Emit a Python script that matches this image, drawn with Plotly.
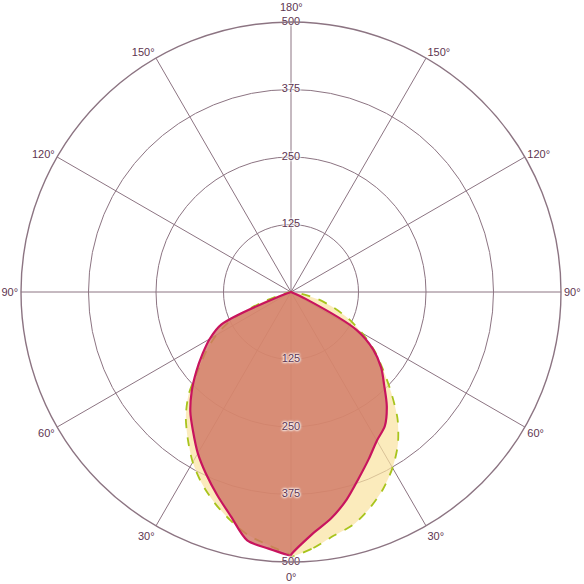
import plotly.graph_objects as go

# gamma angles (deg from nadir)
gamma = [0, 5, 10, 15, 20, 25, 30, 35, 40, 45, 50, 55, 60, 65, 70, 75, 80, 85, 90]

# Series A (yellow, dashed outline) – C0 side (right) and C180 side (left)
yellow_right = [490, 476, 458, 446, 426, 403, 376, 345, 307, 262, 222, 188, 152, 118, 83, 52, 20, 0, 0]
yellow_left = [488, 471, 457, 437, 415, 391, 364, 333, 303, 268, 224, 192, 160, 120, 60, 15, 0, 0, 0]

# Series B (salmon, solid outline)
red_right = [487, 450, 426, 398, 367, 341, 318, 303, 276, 244, 218, 186, 140, 30, 0, 0, 0, 0, 0]
red_left = [488, 477, 467, 430, 400, 372, 345, 316, 290, 260, 229, 200, 174, 142, 20, 0, 0, 0, 0]

radial_ticks = [125, 250, 375, 500]
ang_vals = [0, 30, 60, 90, 120, 150, 180, 210, 240, 270, 300, 330]
ang_text = ["", "30°", "60°", "90°", "120°", "150°", "",
            "150°", "120°", "90°", "60°", "30°"]
pole_labels = ["180°", "0°"]

TXT = "#5e3550"


def closed(right, left):
    th = list(gamma) + [360 - g for g in reversed(gamma)]
    r = list(right) + list(reversed(left))
    return th + [th[0]], r + [r[0]]


fig = go.Figure()

th, r = closed(yellow_right, yellow_left)
fig.add_trace(go.Scatterpolar(
    theta=th, r=r, mode="lines", fill="toself",
    fillcolor="rgba(250,226,160,0.7)",
    line=dict(color="#a8c41c", width=1.8, dash="dash", shape="spline", smoothing=0.8),
    hoverinfo="skip", showlegend=False))

th, r = closed(red_right, red_left)
fig.add_trace(go.Scatterpolar(
    theta=th, r=r, mode="lines", fill="toself",
    fillcolor="rgba(208,118,100,0.80)",
    line=dict(color="#c8145e", width=2.2, shape="spline", smoothing=0.8),
    hoverinfo="skip", showlegend=False))

label_font = dict(family="Liberation Sans", size=11, color=TXT,
                  shadow="0 0 2px white, 0 0 2px white, 0 0 3px white, 0 0 3px white")
for ang in (0, 180):
    fig.add_trace(go.Scatterpolar(
        theta=[ang] * len(radial_ticks), r=radial_ticks, mode="text",
        text=[str(v) for v in radial_ticks], textposition="middle center",
        textfont=label_font, hoverinfo="skip", showlegend=False, cliponaxis=False))

# 0° / 180° labels sit further out than the side labels (clear of the "500")
for txt, yp in zip(pole_labels, [1.028, -0.028]):
    fig.add_annotation(text=txt, x=0.5, y=yp, xref="paper", yref="paper",
                       showarrow=False, xanchor="center", yanchor="middle",
                       font=dict(family="Liberation Sans", size=11, color=TXT))

grid = "#8c7482"
fig.update_layout(
    width=584, height=584,
    margin=dict(l=21, r=23, t=22, b=22),
    paper_bgcolor="white",
    polar=dict(
        bgcolor="white",
        angularaxis=dict(
            rotation=270, direction="counterclockwise",
            tickmode="array", tickvals=ang_vals, ticktext=ang_text,
            showline=True, linecolor=grid, linewidth=1.4,
            gridcolor=grid, gridwidth=1.3, ticks="",
            tickfont=dict(family="Liberation Sans", size=11, color=TXT),
        ),
        radialaxis=dict(
            range=[0, 500], tickvals=radial_ticks, showticklabels=False,
            gridcolor=grid, gridwidth=1.3, showline=False, ticks="",
        ),
    ),
)

fig.write_html("out.html", config={"displayModeBar": False},
               post_script="document.body.style.margin='0';")
